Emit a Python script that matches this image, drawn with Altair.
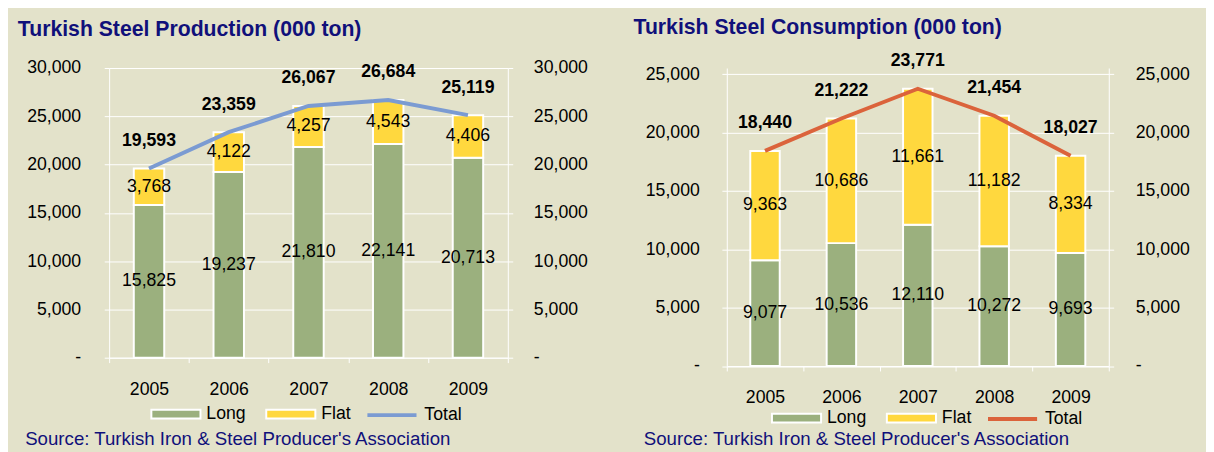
import altair as alt
import pandas as pd

# ---------------- data ----------------
years = ["2005", "2006", "2007", "2008", "2009"]

prod_long = [15825, 19237, 21810, 22141, 20713]
prod_flat = [3768, 4122, 4257, 4543, 4406]
prod_total = [19593, 23359, 26067, 26684, 25119]
prod_ticks = [0, 5000, 10000, 15000, 20000, 25000, 30000]

cons_long = [9077, 10536, 12110, 10272, 9693]
cons_flat = [9363, 10686, 11661, 11182, 8334]
cons_total = [18440, 21222, 23771, 21454, 18027]
cons_ticks = [0, 5000, 10000, 15000, 20000, 25000]

bar_series = ["Long", "Flat"]
line_series = ["Total"]

prod_title = "Turkish Steel Production (000 ton)"
cons_title = "Turkish Steel Consumption (000 ton)"
source_text = "Source: Turkish Iron & Steel Producer's Association"

# ---------------- styles ----------------
FONT = "Liberation Sans"
BG = "#E3E2CA"
GREEN = "#9BB07E"
YELLOW = "#FFD83E"
BLUE = "#7B9BD2"
ORANGE = "#DB633B"
NAVY = "#10107A"
NBSP = "\u00a0"


def panel(title, long_v, flat_v, total_v, ticks, ymax, width, height,
          line_color, bar_size, title_dx, title_offset, lpad_left, lpad_right,
          leg_x, leg_y, src_x, src_y):
    wide = pd.DataFrame({"year": years, "long": long_v, "flat": flat_v,
                         "total": total_v})
    stacked = pd.DataFrame({
        "year": years + years,
        "series": [bar_series[0]] * len(years) + [bar_series[1]] * len(years),
        "value": long_v + flat_v,
        "order": [0] * len(years) + [1] * len(years),
    })

    yscale = alt.Scale(domain=[0, ymax], nice=False, zero=True)
    x = alt.X(
        "year:N", sort=years,
        scale=alt.Scale(paddingInner=0, paddingOuter=0),
        axis=alt.Axis(
            title=source_text, titleAnchor="start", titleAlign="left",
            titleX=src_x, titleY=src_y, titleBaseline="alphabetic",
            titleFont=FONT, titleFontSize=19, titleFontWeight="normal",
            titleColor=NAVY, labelAngle=0, labelPadding=18,
            tickBand="extent", tickSize=5, domainColor="white",
            tickColor="white", labelFontSize=18, labelColor="black",
        ),
    )
    left_axis = alt.Axis(
        values=ticks, format=",.0f", title=None, orient="left",
        labelExpr=f"datum.value == 0 ? '-{NBSP}' : datum.label",
        labelPadding=lpad_left, tickSize=5, grid=True, gridColor="white",
        domainColor="white", tickColor="white", labelFontSize=18,
        labelColor="black",
    )
    right_axis = alt.Axis(
        values=ticks, format=",.0f", title=None, orient="right",
        labelExpr=f"datum.value == 0 ? '{NBSP}{NBSP}-' : datum.label",
        labelPadding=lpad_right, tickSize=5, grid=False,
        domainColor="white", tickColor="white", labelFontSize=18,
        labelColor="black",
    )

    bars = alt.Chart(stacked).mark_bar(
        stroke="white", strokeWidth=2, size=bar_size
    ).encode(
        x=x,
        y=alt.Y("value:Q", stack="zero", scale=yscale, axis=left_axis),
        color=alt.Color(
            "series:N",
            scale=alt.Scale(domain=bar_series, range=[GREEN, YELLOW]),
            legend=alt.Legend(
                title=None, orient="none", direction="horizontal",
                legendX=leg_x, legendY=leg_y,
                symbolType="M-1,-0.18H1V0.18H-1Z", symbolSize=2500,
                symbolStrokeColor="white", symbolStrokeWidth=2,
                symbolOpacity=1, labelFont=FONT, labelFontSize=18,
                labelColor="black", labelOffset=5, columnPadding=16,
                padding=0,
            ),
        ),
        order=alt.Order("order:Q"),
    )

    line = alt.Chart(wide).transform_calculate(
        series="'Total'"
    ).mark_line(strokeWidth=4).encode(
        x=x,
        y=alt.Y("total:Q", scale=yscale, axis=right_axis),
        stroke=alt.Stroke(
            "series:N",
            scale=alt.Scale(domain=line_series, range=[line_color]),
            legend=alt.Legend(
                title=None, orient="none", direction="horizontal",
                legendX=leg_x + 219, legendY=leg_y,
                symbolType="M-1,0H1", symbolSize=2500,
                symbolStrokeWidth=4, labelFont=FONT, labelFontSize=18,
                labelColor="black", labelOffset=6, padding=0,
            ),
        ),
    )

    t_long = alt.Chart(wide).transform_calculate(
        mid="datum.long / 2"
    ).mark_text(fontSize=18, baseline="middle", font=FONT, color="black").encode(
        x=x,
        y=alt.Y("mid:Q", scale=yscale, axis=None),
        text=alt.Text("long:Q", format=","),
    )
    t_flat = alt.Chart(wide).transform_calculate(
        mid="datum.long + datum.flat / 2"
    ).mark_text(fontSize=18, baseline="middle", font=FONT, color="black").encode(
        x=x,
        y=alt.Y("mid:Q", scale=yscale, axis=None),
        text=alt.Text("flat:Q", format=","),
    )
    t_total = alt.Chart(wide).mark_text(
        fontSize=18, fontWeight="bold", baseline="middle", dy=-28,
        font=FONT, color="black"
    ).encode(
        x=x,
        y=alt.Y("total:Q", scale=yscale, axis=None),
        text=alt.Text("total:Q", format=","),
    )

    return alt.layer(bars, line, t_long, t_flat, t_total).resolve_axis(
        y="independent"
    ).resolve_legend(color="independent", stroke="independent").properties(
        width=width, height=height,
        title=alt.TitleParams(
            text=title, anchor="start", frame="group", dx=title_dx,
            offset=title_offset, fontSize=21.6, fontWeight="bold", color=NAVY,
            font=FONT, baseline="alphabetic",
        ),
    )


# right panel shares the plot top with the left one, so its scale top is
# extended a little above 25,000 to keep 25,000 at the reference position
left = panel(prod_title, prod_long, prod_flat, prod_total, prod_ticks, 30000,
             406, 295, BLUE, 31, -93, 2, 24, 21, 42, 326.5, -86, 88.3)
right = panel(cons_title, cons_long, cons_flat, cons_total, cons_ticks, 25547,
              389, 303.5, ORANGE, 30, -95, -3.3, 23, 22, 45, 330.5, -85, 80.3)

chart = alt.hconcat(left, right, spacing=46, bounds="full").resolve_scale(
    color="independent", stroke="independent"
).configure(
    background=BG,
    padding={"left": 10, "top": 5, "right": 16, "bottom": 4},
    font=FONT,
).configure_view(stroke=None)

chart.save("out.html", embed_options={"renderer": "svg", "actions": False})
